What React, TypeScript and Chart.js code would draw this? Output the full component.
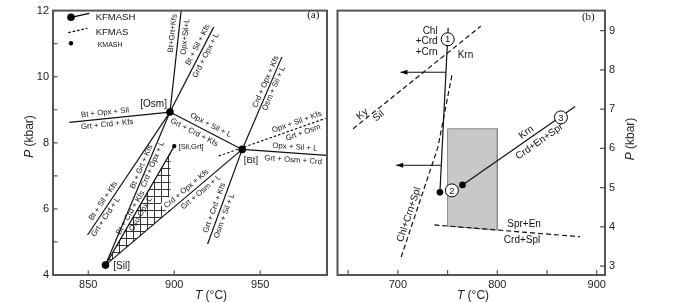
import React, { useEffect, useRef } from "react";
import { Chart, registerables } from "chart.js";

Chart.register(...registerables);

type Pt = [number, number];

const FONT = '"Liberation Sans", Arial, sans-serif';
const SERIF = '"Liberation Serif", "Times New Roman", serif';
const INK = "#111";
const FRAME = "#555";

// ---------------- Panel (a) ----------------
const A_T_MIN = 829.5;
const A_T_MAX = 988.8;
const A_P_MIN = 4;
const A_P_MAX = 12;
const A_T_TICKS = [850, 900, 950];
const A_P_TICKS = [4, 5, 6, 7, 8, 9, 10, 11, 12];
const A_P_TICK_LABELS = [4, 6, 8, 10, 12];

const OSM: Pt = [897.5, 8.93];
const BT: Pt = [939.5, 7.8];
const SIL: Pt = [860, 4.3];
const SIL_GRT: Pt = [900, 7.9];

const KFMASH_LINES: Pt[][] = [
  [OSM, [904, 12]],
  [OSM, [922.9, 11.5]],
  [OSM, [839, 8.62]],
  [OSM, BT],
  [OSM, [849.6, 5.21]],
  [OSM, SIL],
  [SIL, SIL_GRT],
  [SIL, BT],
  [BT, [962.6, 10.6]],
  [BT, [988.5, 7.62]],
  [BT, [919.4, 4.94]],
];
const KFMAS_LINE: Pt[] = [[925.8, 7.6], [988, 8.74]];
const HATCH_AREA: Pt[] = [SIL, [897.8, 7.72], [897.8, 5.96], SIL];

const A_SEGS: Pt[][] = [...KFMASH_LINES, KFMAS_LINE];

const A_LABELS = [
  { text: "Bt+Grt+Kfs", seg: 0, t: 0.77, off: 6 },
  { text: "Opx+Sil+L", seg: 0, t: 0.75, off: -7 },
  { text: "Bt + Sil + Kfs", seg: 1, t: 0.76, off: 6 },
  { text: "Grd + Opx + L", seg: 1, t: 0.7, off: -6 },
  { text: "Bt + Opx + Sil", seg: 2, t: 0.64, off: 6 },
  { text: "Grt + Crd + Kfs", seg: 2, t: 0.63, off: -6 },
  { text: "Opx + Sil + L", seg: 3, t: 0.52, off: 7 },
  { text: "Grt + Crd + Kfs", seg: 3, t: 0.38, off: -7 },
  { text: "Bt + Sil + Kfs", seg: 4, t: 0.75, off: 6 },
  { text: "Grt + Crd + L", seg: 4, t: 0.83, off: -5 },
  { text: "Bt + Grt + Kfs", seg: 5, t: 0.37, off: 5 },
  { text: "Crd + Opx + L", seg: 5, t: 0.33, off: -4.5 },
  { text: "Bt + Crd + Kfs", seg: 6, t: 0.42, off: 4.5 },
  { text: "Osu-Opx-L", seg: 6, t: 0.45, off: -5 },
  { text: "Crd + Opx + Kfs", seg: 7, t: 0.62, off: 6, bg: true },
  { text: "Grt + Osm + L", seg: 7, t: 0.67, off: -6 },
  { text: "Crd + Opx + Kfs", seg: 8, t: 0.71, off: 5 },
  { text: "Osm + Sil + L", seg: 8, t: 0.68, off: -5 },
  { text: "Opx + Sil + L", seg: 9, t: 0.62, off: 6 },
  { text: "Grt + Osm + Crd", seg: 9, t: 0.61, off: -7 },
  { text: "Grt + Crd + Kfs", seg: 10, t: 0.64, off: 6 },
  { text: "Osm + Sil + L", seg: 10, t: 0.68, off: -6 },
  { text: "Opx + Sil + Kfs", seg: 11, t: 0.75, off: 6 },
  { text: "Grt + Osm", seg: 11, t: 0.77, off: -6 },
];

const A_POINT_LABELS = [
  { text: "[Osm]", T: 888, P: 9.16, size: 10 },
  { text: "[Bt]", T: 944.6, P: 7.47, size: 9.5 },
  { text: "[Sil]", T: 869.4, P: 4.27, size: 10 },
  { text: "[Sil,Grt]", T: 909.8, P: 7.87, size: 7.5 },
];

// ---------------- Panel (b) ----------------
const B_T_MIN = 639.3;
const B_T_MAX = 908.3;
const B_P_MIN = 2.775;
const B_P_MAX = 9.51;
const B_T_TICKS = [650, 700, 750, 800, 850, 900];
const B_T_TICK_LABELS = [700, 800, 900];
const B_P_TICKS = [3, 4, 5, 6, 7, 8, 9];

const REACTION_1_2: Pt[] = [[750.6, 9.07], [742.3, 4.88]];
const REACTION_2_3: Pt[] = [[765, 5.07], [878.3, 7.07]];
const KY_SIL: Pt[] = [[655, 6.5], [783.3, 9.11]];
const CHL_CRN_SPL: Pt[] = [[754.3, 7.86], [740.3, 6.03], [703.3, 3.23]];
const SPR_EN: Pt[] = [[736.7, 4.05], [883.3, 3.75]];
const SHADED_AREA: Pt[] = [[750, 6.5], [800, 6.5], [800, 3.92], [750, 4.02], [750, 6.5]];
const B_DOTS: Pt[] = [[742.3, 4.88], [765, 5.07]];
const B_CIRCLES: Pt[] = [[750.1, 8.78], [754.3, 4.93], [864, 6.79]];
const B_CIRCLE_NUMS = ["1", "2", "3"];
const B_ARROWS: Pt[][] = [
  [[748.3, 7.94], [702.6, 7.94]],
  [[743.3, 5.57], [698.3, 5.57]],
];

const B_HLABELS = [
  { text: "Chl", T: 740, P: 8.98, align: "right" },
  { text: "+Crd", T: 740, P: 8.72, align: "right" },
  { text: "+Crn", T: 740, P: 8.44, align: "right" },
  { text: "Krn", T: 768, P: 8.36, align: "center" },
  { text: "Spr+En", T: 810, P: 4.06, align: "left" },
  { text: "Crd+Spl", T: 806.6, P: 3.66, align: "left" },
];
const B_ALONG = [
  { text: "Ky", seg: KY_SIL, t: 0.1, off: 5.5 },
  { text: "Sil", seg: KY_SIL, t: 0.17, off: -6 },
  { text: "Krn", seg: REACTION_2_3, t: 0.6, off: 6.5 },
  { text: "Crd+En+Spr", seg: REACTION_2_3, t: 0.64, off: -8.5 },
  { text: "Chl+Crn+Spl", seg: [CHL_CRN_SPL[1], CHL_CRN_SPL[2]], t: 0.63, off: 6 },
];

// ---------------- helpers ----------------
const toXY = (pts: Pt[]) => pts.map(([x, y]) => ({ x, y }));

function pix(chart: any, p: Pt): [number, number] {
  return [chart.scales.x.getPixelForValue(p[0]), chart.scales.y.getPixelForValue(p[1])];
}

function drawAlong(ctx: CanvasRenderingContext2D, chart: any, seg: Pt[], t: number, off: number, text: string, size: number, bg = false) {
  const [x0, y0] = pix(chart, seg[0]);
  const [x1, y1] = pix(chart, seg[1]);
  let dx = x1 - x0;
  let dy = y1 - y0;
  const cx = x0 + dx * t;
  const cy = y0 + dy * t;
  if (dx < 0 || (dx === 0 && dy > 0)) {
    dx = -dx;
    dy = -dy;
  }
  const L = Math.hypot(dx, dy);
  const nx = dy / L;
  const ny = -dx / L;
  ctx.save();
  ctx.translate(cx + nx * off, cy + ny * off);
  ctx.rotate(Math.atan2(dy, dx));
  ctx.font = `${size}px ${FONT}`;
  ctx.textAlign = "center";
  ctx.textBaseline = "middle";
  if (bg) {
    const w = ctx.measureText(text).width;
    ctx.fillStyle = "#fff";
    ctx.fillRect(-w / 2 - 2, -size * 0.65, w + 4, size * 1.3);
  }
  ctx.fillStyle = INK;
  ctx.fillText(text, 0, 0);
  ctx.restore();
}

function drawFrame(chart: any, xTicks: number[], yTicks: number[], yRight: boolean, len: number) {
  const ctx = chart.ctx as CanvasRenderingContext2D;
  const a = chart.chartArea;
  ctx.save();
  ctx.strokeStyle = FRAME;
  ctx.lineWidth = 1.2;
  ctx.beginPath();
  for (const v of xTicks) {
    const x = chart.scales.x.getPixelForValue(v);
    ctx.moveTo(x, a.bottom);
    ctx.lineTo(x, a.bottom - len);
  }
  for (const v of yTicks) {
    const y = chart.scales.y.getPixelForValue(v);
    const x0 = yRight ? a.right : a.left;
    ctx.moveTo(x0, y);
    ctx.lineTo(yRight ? x0 - len : x0 + len, y);
  }
  ctx.stroke();
  ctx.lineWidth = 2;
  ctx.strokeRect(a.left, a.top, a.right - a.left, a.bottom - a.top);
  ctx.restore();
}

function drawTitle(ctx: CanvasRenderingContext2D, cx: number, cy: number, it: string, rest: string, rotate: boolean) {
  ctx.save();
  ctx.translate(cx, cy);
  if (rotate) ctx.rotate(-Math.PI / 2);
  const fi = `italic 12px ${FONT}`;
  const fn = `12px ${FONT}`;
  ctx.font = fi;
  const w1 = ctx.measureText(it).width;
  ctx.font = fn;
  const w2 = ctx.measureText(rest).width;
  const s = -(w1 + w2) / 2;
  ctx.textAlign = "left";
  ctx.textBaseline = "middle";
  ctx.fillStyle = "#222";
  ctx.font = fi;
  ctx.fillText(it, s, 0);
  ctx.font = fn;
  ctx.fillText(rest, s + w1, 0);
  ctx.restore();
}

function lineDs(pts: Pt[], extra: any = {}) {
  return {
    data: toXY(pts),
    borderColor: INK,
    borderWidth: 1.2,
    pointRadius: 0,
    fill: false,
    tension: 0,
    order: 1,
    ...extra,
  };
}

function baseScales(xmin: number, xmax: number, ymin: number, ymax: number, xt: number[], yt: number[], yRight: boolean, yWidth: number, xPad: number) {
  return {
    x: {
      type: "linear",
      min: xmin,
      max: xmax,
      grid: { display: false, drawTicks: false },
      border: { display: false },
      ticks: { font: { size: 11, family: FONT }, color: "#222", padding: xPad, maxRotation: 0, autoSkip: false },
      afterBuildTicks: (s: any) => {
        s.ticks = xt.map((v) => ({ value: v }));
      },
      afterFit: (s: any) => {
        s.height = 28;
      },
    },
    y: {
      type: "linear",
      position: yRight ? "right" : "left",
      min: ymin,
      max: ymax,
      grid: { display: false, drawTicks: false },
      border: { display: false },
      ticks: { font: { size: 11, family: FONT }, color: "#222", padding: 4, autoSkip: false },
      afterBuildTicks: (s: any) => {
        s.ticks = yt.map((v) => ({ value: v }));
      },
      afterFit: (s: any) => {
        s.width = yWidth;
      },
    },
  };
}

export default function App() {
  const refA = useRef<HTMLCanvasElement>(null);
  const refB = useRef<HTMLCanvasElement>(null);

  useEffect(() => {
    Chart.defaults.font.family = FONT;
    const pc = document.createElement("canvas");
    pc.width = 7;
    pc.height = 7;
    const pctx = pc.getContext("2d")!;
    pctx.strokeStyle = "#333";
    pctx.lineWidth = 1;
    pctx.beginPath();
    pctx.moveTo(0.5, 0);
    pctx.lineTo(0.5, 7);
    pctx.moveTo(0, 0.5);
    pctx.lineTo(7, 0.5);
    pctx.stroke();
    const pattern = refA.current!.getContext("2d")!.createPattern(pc, "repeat");

    const plugA = {
      id: "plugA",
      afterDatasetsDraw(chart: any) {
        const ctx = chart.ctx as CanvasRenderingContext2D;
        for (const L of A_LABELS) {
          drawAlong(ctx, chart, A_SEGS[L.seg], L.t, L.off, L.text, 7.8, !!(L as any).bg);
        }
        ctx.save();
        ctx.fillStyle = INK;
        ctx.textAlign = "center";
        ctx.textBaseline = "middle";
        for (const p of A_POINT_LABELS) {
          const [x, y] = pix(chart, [p.T, p.P]);
          ctx.font = `${p.size}px ${FONT}`;
          ctx.fillText(p.text, x, y);
        }
        ctx.restore();
      },
      afterDraw(chart: any) {
        const ctx = chart.ctx as CanvasRenderingContext2D;
        drawFrame(chart, A_T_TICKS, A_P_TICKS, false, 4.5);
        drawTitle(ctx, 211, 295.5, "T", " (°C)", false);
        drawTitle(ctx, 30, 136.5, "P", " (kbar)", true);
        ctx.save();
        ctx.fillStyle = "#000";
        ctx.strokeStyle = "#000";
        ctx.lineWidth = 1.2;
        ctx.beginPath();
        ctx.arc(71, 17.3, 3.8, 0, Math.PI * 2);
        ctx.fill();
        ctx.beginPath();
        ctx.moveTo(71, 17.3);
        ctx.lineTo(89.3, 13.3);
        ctx.stroke();
        ctx.setLineDash([2.5, 2]);
        ctx.beginPath();
        ctx.moveTo(68.3, 32.7);
        ctx.lineTo(87.3, 28.3);
        ctx.stroke();
        ctx.setLineDash([]);
        ctx.beginPath();
        ctx.arc(71, 43.3, 2.2, 0, Math.PI * 2);
        ctx.fill();
        ctx.fillStyle = INK;
        ctx.textAlign = "left";
        ctx.textBaseline = "middle";
        ctx.font = `9.5px ${FONT}`;
        ctx.fillText("KFMASH", 95.7, 17.5);
        ctx.fillText("KFMAS", 95.7, 32);
        ctx.font = `7px ${FONT}`;
        ctx.fillText("KMASH", 97.7, 45.5);
        ctx.font = `11px ${SERIF}`;
        ctx.textAlign = "center";
        ctx.fillText("(a)", 313.3, 15.5);
        ctx.restore();
      },
    };

    const chartA = new Chart(refA.current!, {
      type: "line",
      data: {
        datasets: [
          ...KFMASH_LINES.map((seg) => lineDs(seg)),
          lineDs(KFMAS_LINE, { borderDash: [2.5, 2] }),
          lineDs([OSM, BT, SIL], { showLine: false, pointRadius: 3.8, pointBackgroundColor: "#000", pointBorderWidth: 0, order: 0 }),
          lineDs([SIL_GRT], { showLine: false, pointRadius: 2.2, pointBackgroundColor: "#000", pointBorderWidth: 0, order: 0 }),
          lineDs(HATCH_AREA, { fill: "shape", backgroundColor: pattern, borderWidth: 0, order: 5 }),
        ],
      },
      options: {
        responsive: false,
        animation: false,
        devicePixelRatio: 1,
        events: [],
        layout: { padding: { left: 0, right: 9, top: 5, bottom: 0 } },
        plugins: { legend: { display: false }, tooltip: { enabled: false } },
        scales: baseScales(A_T_MIN, A_T_MAX, A_P_MIN, A_P_MAX, A_T_TICKS, A_P_TICK_LABELS, false, 53, 3) as any,
      },
      plugins: [plugA],
    } as any);

    const plugB = {
      id: "plugB",
      afterDatasetsDraw(chart: any) {
        const ctx = chart.ctx as CanvasRenderingContext2D;
        ctx.save();
        ctx.fillStyle = "#000";
        for (const ar of B_ARROWS) {
          const [x0, y0] = pix(chart, ar[0]);
          const [x1, y1] = pix(chart, ar[1]);
          const ang = Math.atan2(y1 - y0, x1 - x0);
          ctx.save();
          ctx.translate(x1, y1);
          ctx.rotate(ang);
          ctx.beginPath();
          ctx.moveTo(0, 0);
          ctx.lineTo(-7, -2.6);
          ctx.lineTo(-7, 2.6);
          ctx.closePath();
          ctx.fill();
          ctx.restore();
        }
        ctx.fillStyle = INK;
        ctx.font = `9.5px ${FONT}`;
        ctx.textAlign = "center";
        ctx.textBaseline = "middle";
        B_CIRCLES.forEach((c, i) => {
          const [x, y] = pix(chart, c);
          ctx.fillText(B_CIRCLE_NUMS[i], x, y + 0.5);
        });
        ctx.font = `10px ${FONT}`;
        for (const l of B_HLABELS) {
          const [x, y] = pix(chart, [l.T, l.P]);
          ctx.textAlign = l.align as CanvasTextAlign;
          ctx.fillText(l.text, x, y);
        }
        ctx.restore();
        for (const l of B_ALONG) {
          drawAlong(ctx, chart, l.seg, l.t, l.off, l.text, 10);
        }
      },
      afterDraw(chart: any) {
        const ctx = chart.ctx as CanvasRenderingContext2D;
        drawFrame(chart, B_T_TICKS, B_P_TICKS, true, 5);
        drawTitle(ctx, 143, 296, "T", " (°C)", false);
        drawTitle(ctx, 301, 139, "P", " (kbar)", true);
        ctx.save();
        ctx.fillStyle = INK;
        ctx.font = `11px ${SERIF}`;
        ctx.textAlign = "center";
        ctx.textBaseline = "middle";
        ctx.fillText("(b)", 258.3, 17);
        ctx.restore();
      },
    };

    const dash = [5, 3];
    const chartB = new Chart(refB.current!, {
      type: "line",
      data: {
        datasets: [
          lineDs(REACTION_1_2),
          lineDs(REACTION_2_3),
          lineDs(KY_SIL, { borderDash: dash }),
          lineDs(CHL_CRN_SPL, { borderDash: dash }),
          lineDs(SPR_EN, { borderDash: dash }),
          ...B_ARROWS.map((a) => lineDs(a, { borderWidth: 1 })),
          lineDs(B_DOTS, { showLine: false, pointRadius: 3.3, pointBackgroundColor: "#000", pointBorderWidth: 0, order: 0 }),
          lineDs(B_CIRCLES, { showLine: false, pointRadius: 6.5, pointBackgroundColor: "#fff", pointBorderColor: "#000", pointBorderWidth: 1, order: 0 }),
          lineDs(SHADED_AREA, { fill: "shape", backgroundColor: "#c8c8c8", borderColor: "#8a8a8a", borderWidth: 1, order: 5 }),
        ],
      },
      options: {
        responsive: false,
        animation: false,
        devicePixelRatio: 1,
        events: [],
        layout: { padding: { left: 6, right: 0, top: 6, bottom: 0 } },
        plugins: { legend: { display: false }, tooltip: { enabled: false } },
        scales: baseScales(B_T_MIN, B_T_MAX, B_P_MIN, B_P_MAX, B_T_TICK_LABELS, B_P_TICKS, true, 95, 3.5) as any,
      },
      plugins: [plugB],
    } as any);

    return () => {
      chartA.destroy();
      chartB.destroy();
    };
  }, []);

  return (
    <div style={{ position: "fixed", left: 0, top: 0, width: 700, height: 303, background: "#fff" }}>
      <canvas ref={refA} width={336} height={303} style={{ position: "absolute", left: 0, top: 0 }} />
      <canvas ref={refB} width={370} height={303} style={{ position: "absolute", left: 330, top: 0 }} />
    </div>
  );
}
